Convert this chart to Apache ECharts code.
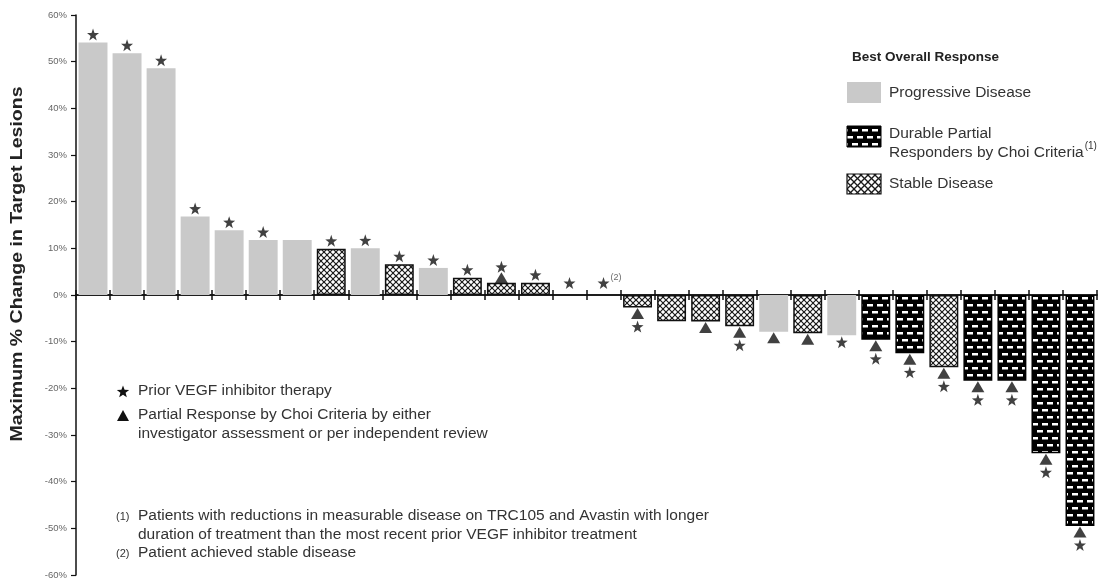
<!DOCTYPE html>
<html>
<head>
<meta charset="utf-8">
<script src="https://cdn.jsdelivr.net/npm/echarts@6/dist/echarts.min.js"></script>
<style>
  html, body { margin: 0; padding: 0; background: #fff; }
  #chart { width: 1105px; height: 584px; }
</style>
</head>
<body>
<div id="chart"></div>
<script>
// Waterfall of best change in target lesions, one bar per patient
const patients = ['1','2','3','4','5','6','7','8','9','10','11','12','13','14','15',
                  '16','17','18','19','20','21','22','23','24','25','26','27','28','29','30'];
const changePct = [54.1, 51.8, 48.6, 16.8, 13.9, 11.8, 11.8, 9.9, 10.0, 6.6, 5.8, 3.7, 2.6, 2.6, 0,
                   0, -2.7, -5.6, -5.7, -6.7, -7.9, -8.2, -8.6, -9.6, -12.5, -15.5, -18.4, -18.4, -33.9, -49.5];
// PD = progressive disease, SD = stable disease, PR = durable partial responder
const response = ['PD','PD','PD','PD','PD','PD','PD','SD','PD','SD','PD','SD','SD','SD','',
                  '','SD','SD','SD','SD','PD','SD','PD','PR','PR','SD','PR','PR','PR','PR'];
const priorVEGF = [1,1,1,1,1,1,0,1,1,1,1,1,1,1,1, 1,1,0,0,1,0,0,1,1,1,1,1,1,1,1];
const choiPR    = [0,0,0,0,0,0,0,0,0,0,0,0,1,0,0, 0,1,0,1,1,1,1,0,1,1,1,1,1,1,1];
const footnoteOn = '16';   // patient carrying footnote (2)
const yMin = -60, yMax = 60, yStep = 10;

const FONT = 'Liberation Sans, Arial, sans-serif';

// ---- fill patterns ----
function crossHatch(s, lw) {
  const c = document.createElement('canvas');
  c.width = s; c.height = s;
  const g = c.getContext('2d');
  g.fillStyle = '#fff'; g.fillRect(0, 0, s, s);
  g.strokeStyle = '#1a1a1a'; g.lineWidth = lw;
  for (const o of [-s, 0, s]) {
    g.beginPath(); g.moveTo(o, 0); g.lineTo(o + s, s); g.stroke();
    g.beginPath(); g.moveTo(o + s, 0); g.lineTo(o, s); g.stroke();
  }
  return c;
}
function brick() {
  const w = 10, h = 14;
  const c = document.createElement('canvas');
  c.width = w; c.height = h;
  const g = c.getContext('2d');
  g.fillStyle = '#000'; g.fillRect(0, 0, w, h);
  g.fillStyle = '#fff';
  g.fillRect(2, 3, 6, 2.5);
  g.fillRect(7, 10, 6, 2.5);
  g.fillRect(-3, 10, 6, 2.5);
  return c;
}
const hatchPat = { image: crossHatch(6, 1.2), repeat: 'repeat' };
const hatchPatBig = { image: crossHatch(7, 1.3), repeat: 'repeat' };
const brickPat = { image: brick(), repeat: 'repeat' };

function styleFor(t) {
  if (t === 'PD') return { color: '#c9c9c9', borderWidth: 0 };
  if (t === 'SD') return { color: hatchPat, borderColor: '#111', borderWidth: 1.5 };
  if (t === 'PR') return { color: brickPat, borderColor: '#000', borderWidth: 1.5 };
  return { color: 'rgba(0,0,0,0)', borderWidth: 0 };
}

const STAR = 'path://M0,-10L2.35,-3.24L9.51,-3.09L3.8,1.24L5.88,8.09L0,4L-5.88,8.09L-3.8,1.24L-9.51,-3.09L-2.35,-3.24Z';
function starPoints(cx, cy, r) {
  const pts = [];
  for (let k = 0; k < 10; k++) {
    const a = -Math.PI / 2 + k * Math.PI / 5;
    const rr = k % 2 ? r * 0.42 : r;
    pts.push([cx + rr * Math.cos(a), cy + rr * Math.sin(a)]);
  }
  return pts;
}

const barData = changePct.map((v, i) => ({ value: v, itemStyle: styleFor(response[i]) }));

const starData = [];
const triData = [];
changePct.forEach((v, i) => {
  if (choiPR[i]) {
    triData.push({ value: [patients[i], v], symbolOffset: [0, v >= 0 ? -5 : 6] });
  }
  if (priorVEGF[i]) {
    let dy;
    if (v > 0) dy = choiPR[i] ? -16 : -8;
    else if (v === 0) dy = -12;
    else dy = choiPR[i] ? 19 : 7;
    const item = { value: [patients[i], v], symbolOffset: [0, dy] };
    if (patients[i] === footnoteOn) {
      item.label = { show: true, formatter: '(2)', position: 'right', distance: 1,
        offset: [0, -5], fontSize: 9, color: '#444', fontFamily: FONT };
    }
    starData.push(item);
  }
});

// ---- text measuring ----
const mctx = document.createElement('canvas').getContext('2d');
function textW(str, font) { mctx.font = font; return mctx.measureText(str).width; }

const legendX = 847, legendTextX = 889;
const legFont = '15.5px ' + FONT;
const respW = textW('Responders by Choi Criteria', legFont);

const yTitle = 'Maximum % Change in Target Lesions';
const yTitleFont = 'bold 16px ' + FONT;
const yTitleStretch = 355 / textW(yTitle, yTitleFont);

const noteFont = '15.5px ' + FONT;
const noteX = 138;
const graphics = [
  // y-axis title
  { type: 'text', x: 18, y: 264, rotation: Math.PI / 2, scaleX: yTitleStretch,
    style: { text: yTitle, font: yTitleFont, fill: '#222', align: 'center', verticalAlign: 'middle' } },
  // legend
  { type: 'text', x: 852, y: 57, style: { text: 'Best Overall Response', font: 'bold 13.5px ' + FONT,
      fill: '#222', verticalAlign: 'middle' } },
  { type: 'rect', shape: { x: legendX, y: 82, width: 34, height: 21 }, style: { fill: '#c9c9c9' } },
  { type: 'text', x: legendTextX, y: 93, style: { text: 'Progressive Disease', font: legFont, fill: '#333', verticalAlign: 'middle' } },
  { type: 'rect', shape: { x: legendX, y: 126, width: 34, height: 21 }, style: { fill: brickPat, stroke: '#000', lineWidth: 1 } },
  { type: 'text', x: legendTextX, y: 134, style: { text: 'Durable Partial', font: legFont, fill: '#333', verticalAlign: 'middle' } },
  { type: 'text', x: legendTextX, y: 153, style: { text: 'Responders by Choi Criteria', font: legFont, fill: '#333', verticalAlign: 'middle' } },
  { type: 'text', x: legendTextX + respW + 1, y: 146, style: { text: '(1)', font: '10px ' + FONT, fill: '#333', verticalAlign: 'middle' } },
  { type: 'rect', shape: { x: legendX, y: 174, width: 34, height: 20 }, style: { fill: hatchPatBig, stroke: '#111', lineWidth: 1.2 } },
  { type: 'text', x: legendTextX, y: 184, style: { text: 'Stable Disease', font: legFont, fill: '#333', verticalAlign: 'middle' } },
  // marker key
  { type: 'polygon', shape: { points: starPoints(123, 392, 6.5) }, style: { fill: '#111' } },
  { type: 'text', x: noteX, y: 391, style: { text: 'Prior VEGF inhibitor therapy', font: noteFont, fill: '#333', verticalAlign: 'middle' } },
  { type: 'polygon', shape: { points: [[123, 410], [129, 421], [117, 421]] }, style: { fill: '#111' } },
  { type: 'text', x: noteX, y: 415, style: { text: 'Partial Response by Choi Criteria by either', font: noteFont, fill: '#333', verticalAlign: 'middle' } },
  { type: 'text', x: noteX, y: 434, style: { text: 'investigator assessment or per independent review', font: noteFont, fill: '#333', verticalAlign: 'middle' } },
  // footnotes
  { type: 'text', x: 116, y: 517, style: { text: '(1)', font: '11px ' + FONT, fill: '#333', verticalAlign: 'middle' } },
  { type: 'text', x: noteX, y: 516, style: { text: 'Patients with reductions in measurable disease on TRC105 and Avastin with longer', font: noteFont, fill: '#333', verticalAlign: 'middle' } },
  { type: 'text', x: noteX, y: 535, style: { text: 'duration of treatment than the most recent prior VEGF inhibitor treatment', font: noteFont, fill: '#333', verticalAlign: 'middle' } },
  { type: 'text', x: 116, y: 554, style: { text: '(2)', font: '11px ' + FONT, fill: '#333', verticalAlign: 'middle' } },
  { type: 'text', x: noteX, y: 553, style: { text: 'Patient achieved stable disease', font: noteFont, fill: '#333', verticalAlign: 'middle' } }
];

const gridBox = { left: 76, right: 8, top: 15, bottom: 9, containLabel: false };
const xAxisBase = {
  type: 'category', data: patients, boundaryGap: true, position: 'bottom',
  axisLine: { onZero: true, lineStyle: { color: '#111', width: 1.5 } },
  axisLabel: { show: false }, splitLine: { show: false }
};

const chart = echarts.init(document.getElementById('chart'), null, { renderer: 'canvas' });
chart.setOption({
  animation: false,
  backgroundColor: '#fff',
  // a second, identical grid carries the upward half of the crossing x ticks
  grid: [Object.assign({}, gridBox), Object.assign({}, gridBox)],
  xAxis: [
    Object.assign({}, xAxisBase, { gridIndex: 0, axisTick: { show: true, inside: false, length: 5, lineStyle: { color: '#111', width: 1.5 } } }),
    Object.assign({}, xAxisBase, { gridIndex: 1, axisTick: { show: true, inside: true, length: 5, lineStyle: { color: '#111', width: 1.5 } } })
  ],
  yAxis: [
    {
      type: 'value', gridIndex: 0, min: yMin, max: yMax, interval: yStep,
      axisLine: { show: true, lineStyle: { color: '#111', width: 1.5 } },
      axisTick: { show: true, length: 5, lineStyle: { color: '#111', width: 1.2 } },
      axisLabel: { formatter: '{value}%', fontSize: 9.5, color: '#666', margin: 9, fontFamily: FONT },
      splitLine: { show: false }
    },
    {
      type: 'value', gridIndex: 1, min: yMin, max: yMax, interval: yStep,
      axisLine: { show: false }, axisTick: { show: false }, axisLabel: { show: false },
      splitLine: { show: false }
    }
  ],
  series: [
    { name: 'Best change', type: 'bar', xAxisIndex: 0, yAxisIndex: 0, data: barData, barWidth: '85%', z: 2 },
    { name: 'Partial Response by Choi Criteria', type: 'scatter', xAxisIndex: 0, yAxisIndex: 0, data: triData,
      symbol: 'triangle', symbolSize: [13, 11], itemStyle: { color: '#111' }, z: 4 },
    { name: 'Prior VEGF inhibitor therapy', type: 'scatter', xAxisIndex: 0, yAxisIndex: 0, data: starData,
      symbol: STAR, symbolSize: [12, 12], itemStyle: { color: '#111' }, z: 5 }
  ],
  graphic: graphics
});
</script>
</body>
</html>
